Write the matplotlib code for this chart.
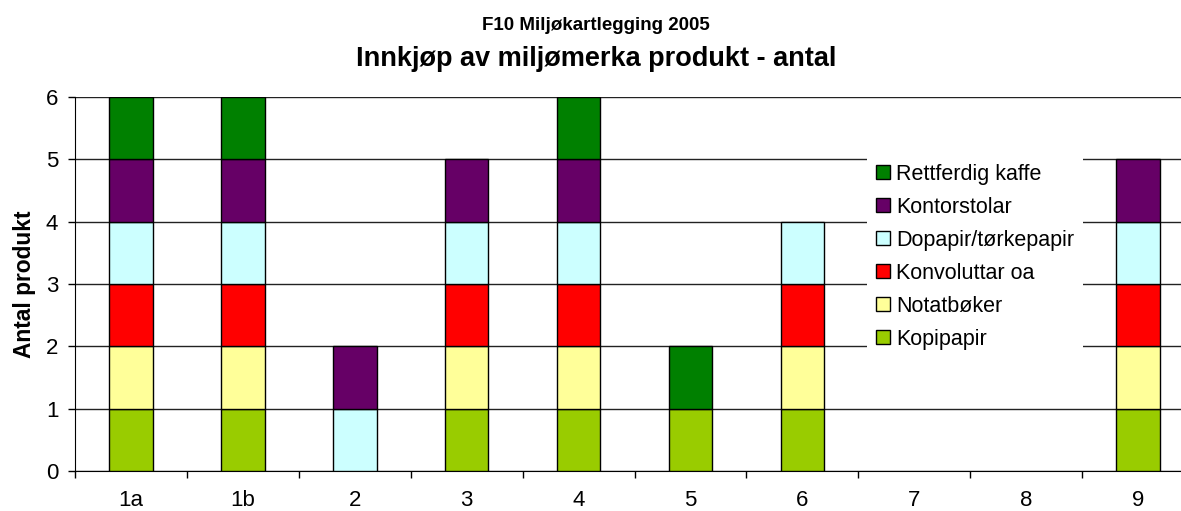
import matplotlib
matplotlib.use("Agg")
import matplotlib.pyplot as plt
import numpy as np

categories = ["1a", "1b", "2", "3", "4", "5", "6", "7", "8", "9"]
series_names = ["Kopipapir", "Notatbøker", "Konvoluttar oa", "Dopapir/tørkepapir", "Kontorstolar", "Rettferdig kaffe"]
kopipapir     = [1, 1, 0, 1, 1, 1, 1, 0, 0, 1]
notatboker    = [1, 1, 0, 1, 1, 0, 1, 0, 0, 1]
konvoluttar   = [1, 1, 0, 1, 1, 0, 1, 0, 0, 1]
dopapir       = [1, 1, 1, 1, 1, 0, 1, 0, 0, 1]
kontorstolar  = [1, 1, 1, 1, 1, 0, 0, 0, 0, 1]
kaffe         = [1, 1, 0, 0, 1, 1, 0, 0, 0, 0]
series_values = [kopipapir, notatboker, konvoluttar, dopapir, kontorstolar, kaffe]
colors = ["#99CC00", "#FFFF99", "#FF0000", "#CCFFFF", "#660066", "#008000"]

plt.rcParams['font.family'] = ['Liberation Sans', 'DejaVu Sans']

fig = plt.figure(figsize=(11.81, 5.11), dpi=100)
ax = fig.add_axes([75/1181, 40/511, 1119/1181, 374/511])

x = np.arange(len(categories))
bottom = np.zeros(len(categories))
handles = []
for name, vals, c in zip(series_names, series_values, colors):
    v = np.array(vals, dtype=float)
    mask = v > 0
    b = ax.bar(x[mask], v[mask], bottom=bottom[mask], width=0.39, color=c, edgecolor="black",
               linewidth=1.0, label=name, zorder=3)
    handles.append(b)
    bottom += v

ax.set_xlim(-0.5, len(categories) - 0.5)
ax.set_ylim(0, 6)
ax.set_yticks(range(0, 7))
ax.yaxis.grid(True, color="#222222", linewidth=1.0, zorder=0)
ax.set_axisbelow(True)

ax.set_xticks(x)
ax.set_xticklabels(categories, fontsize=16)
ax.set_xticks(np.arange(-0.5, len(categories), 1.0), minor=True)
ax.tick_params(axis="x", which="major", length=0, pad=14)
ax.tick_params(axis="x", which="minor", length=5, width=1, direction="out", color="black")
ax.tick_params(axis="y", length=5, width=1, direction="out", labelsize=16, pad=7)

ax.spines["top"].set_visible(False)
ax.spines["right"].set_visible(False)
ax.spines["left"].set_color("black")
ax.spines["bottom"].set_color("black")

ax.set_ylabel("Antal produkt", fontsize=16.4, fontweight="bold")
ax.yaxis.set_label_coords(-0.035, 0.5)

leg = ax.legend(handles[::-1], series_names[::-1], loc="upper left",
                bbox_to_anchor=(0.708, 0.845), frameon=True, fontsize=15.5,
                handlelength=0.65, handleheight=0.65, handletextpad=0.3,
                labelspacing=0.56, borderpad=0.4, borderaxespad=0.0, fancybox=False)
leg.get_frame().set_edgecolor("none")
leg.get_frame().set_facecolor("white")
leg.get_frame().set_alpha(1.0)

fig.text(596/1181, 1 - 25/511, "F10 Miljøkartlegging 2005", ha="center", va="center",
         fontsize=13.5, fontweight="bold")
fig.text(596/1181, 1 - 59/511, "Innkjøp av miljømerka produkt - antal", ha="center", va="center",
         fontsize=19.5, fontweight="bold")

fig.savefig("out.png", dpi=100)
